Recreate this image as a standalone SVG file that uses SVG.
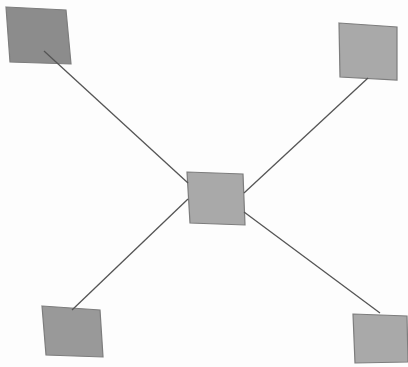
<svg xmlns="http://www.w3.org/2000/svg" width="408" height="367" viewBox="0 0 408 367">
<style>
.node{stroke:#7d7d7d;stroke-width:1.2}
.dark{fill:#8c8c8c}
.light{fill:#a9a9a9}
.conn line{stroke:#555;stroke-width:1.3}
</style>
<rect width="408" height="367" fill="#fdfdfd"/>
<g id="node-tl"><polygon class="node dark" points="6,7 66,10 71,64 10,62"/></g>
<g id="node-tr"><polygon class="node light" points="339,23 397,27 397,80 340,77"/></g>
<g id="node-center"><polygon class="node light" points="187,172 243,174 245,225 190,223"/></g>
<g id="node-bl"><polygon class="node dark" points="42,306 100,310 103,357 46,355" style="fill:#999"/></g>
<g id="node-br"><polygon class="node light" points="353,314 407,316 408,362 355,363"/></g>
<g class="conn" id="connectors">
<line x1="44" y1="51" x2="188" y2="183"/>
<line x1="368" y1="78" x2="244" y2="193"/>
<line x1="72" y1="310" x2="188" y2="199"/>
<line x1="244" y1="212" x2="380" y2="313"/>
</g>
</svg>
